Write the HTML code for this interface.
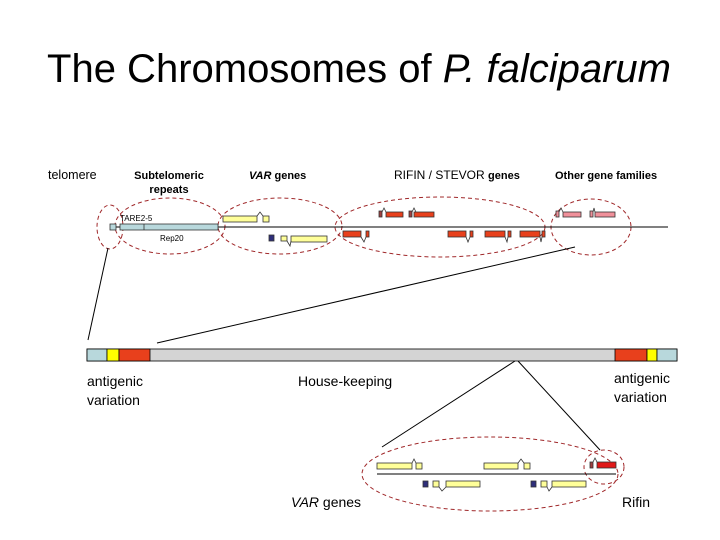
<!DOCTYPE html>
<html><head><meta charset="utf-8"><style>
body{margin:0;background:#fff;width:720px;height:540px;overflow:hidden}
svg{display:block}
text{font-family:"Liberation Sans",Arial,sans-serif}
</style></head><body>
<svg width="720" height="540" viewBox="0 0 720 540">
<text x="359" y="82" font-size="40" text-anchor="middle">The Chromosomes of <tspan font-style="italic">P. falciparum</tspan></text>
<text x="48" y="179" font-size="12.5">telomere</text>
<text x="169" y="179" font-size="11" font-weight="bold" text-anchor="middle">Subtelomeric</text>
<text x="169" y="193" font-size="11" font-weight="bold" text-anchor="middle">repeats</text>
<text x="249" y="179" font-size="11" font-weight="bold"><tspan font-style="italic">VAR</tspan> genes</text>
<text x="394" y="179" font-size="12">RIFIN / STEVOR <tspan font-size="11" font-weight="bold">genes</tspan></text>
<text x="555" y="179" font-size="11" font-weight="bold">Other gene families</text>

<g fill="none" stroke="#a0282a" stroke-width="1" stroke-dasharray="4,3">
<ellipse cx="110" cy="227" rx="13" ry="22"/>
<ellipse cx="170" cy="226" rx="55" ry="28"/>
<ellipse cx="280" cy="226" rx="62" ry="28"/>
<ellipse cx="440" cy="227" rx="105" ry="30"/>
<ellipse cx="591" cy="227" rx="40" ry="28"/>
<ellipse cx="490" cy="474" rx="128" ry="37"/>
<ellipse cx="604" cy="467" rx="20" ry="17"/>
</g>
<g stroke="#000" stroke-width="1" fill="none">
<line x1="116" y1="227" x2="668" y2="227"/>
<line x1="108" y1="248" x2="88" y2="340"/>
<line x1="575" y1="247" x2="157" y2="343"/>
<line x1="515" y1="361" x2="382" y2="447"/>
<line x1="518" y1="361" x2="600" y2="450"/>
<line x1="377" y1="474" x2="616" y2="474"/>
</g>
<text x="120" y="221" font-size="8">TARE2-5</text>
<text x="160" y="241" font-size="8">Rep20</text>
<g stroke="#333" stroke-width="0.8">
<rect x="110" y="224" width="6" height="6" fill="#b8d8dc"/>
<rect x="120" y="224" width="98" height="6" fill="#b8d8dc"/>
<line x1="144" y1="224" x2="144" y2="230"/>
<g fill="#ffff99">
<rect x="223" y="216" width="34" height="6"/><rect x="263" y="216" width="6" height="6"/>
<rect x="281" y="236" width="6" height="5"/><rect x="291" y="236" width="36" height="6"/>
<rect x="377" y="463" width="35" height="6"/><rect x="416" y="463" width="6" height="6"/>
<rect x="484" y="463" width="34" height="6"/><rect x="524" y="463" width="6" height="6"/>
<rect x="433" y="481" width="6" height="6"/><rect x="446" y="481" width="34" height="6"/>
<rect x="541" y="481" width="6" height="6"/><rect x="552" y="481" width="34" height="6"/>
</g>
<g fill="#2e2e7a">
<rect x="269" y="235" width="5" height="6"/><rect x="423" y="481" width="5" height="6"/><rect x="531" y="481" width="5" height="6"/>
</g>
<g fill="#e8401c">
<rect x="386" y="212" width="17" height="5"/><rect x="414" y="212" width="20" height="5"/>
<rect x="343" y="231" width="18" height="6"/><rect x="366" y="231" width="3" height="6"/>
<rect x="448" y="231" width="18" height="6"/><rect x="470" y="231" width="3" height="6"/>
<rect x="485" y="231" width="20" height="6"/><rect x="508" y="231" width="3" height="6"/>
<rect x="520" y="231" width="20" height="6"/><rect x="542" y="231" width="3" height="6"/>
</g>
<g fill="#a04040"><rect x="379" y="211" width="3" height="6"/><rect x="409" y="211" width="3" height="6"/><rect x="590" y="462" width="3" height="6"/></g>
<g fill="#f0909a">
<rect x="563" y="212" width="18" height="5"/><rect x="595" y="212" width="20" height="5"/>
<rect x="556" y="211" width="3" height="6"/><rect x="590" y="211" width="3" height="6"/>
</g>
<rect x="597" y="462" width="19" height="6" fill="#e01818"/>
</g>
<g stroke="#333" stroke-width="0.8" fill="none">
<polyline points="257,216 260,212 263,216"/>
<polyline points="287,241 290,246 291,241"/>
<polyline points="382,212 384,208 386,212"/><polyline points="412,212 414,208 416,212"/>
<polyline points="361,237 364,242 366,237"/><polyline points="466,237 468,242 470,237"/>
<polyline points="505,237 507,242 508,237"/><polyline points="540,237 541,242 542,237"/>
<polyline points="559,212 561,208 563,212"/><polyline points="593,212 594,208 595,212"/>
<polyline points="412,463 414,459 416,463"/><polyline points="518,463 521,459 524,463"/>
<polyline points="439,487 442,491 446,487"/><polyline points="547,487 549,491 552,487"/>
<polyline points="593,462 595,458 597,462"/>
</g>
<g stroke="#000" stroke-width="0.8">
<rect x="87" y="349" width="590" height="12" fill="#d4d4d4"/>
<rect x="87" y="349" width="20" height="12" fill="#b8d8dc"/>
<rect x="107" y="349" width="12" height="12" fill="#ffff00"/>
<rect x="119" y="349" width="31" height="12" fill="#e8401c"/>
<rect x="615" y="349" width="32" height="12" fill="#e8401c"/>
<rect x="647" y="349" width="10" height="12" fill="#ffff00"/>
<rect x="657" y="349" width="20" height="12" fill="#b8d8dc"/>
</g>
<text x="87" y="386" font-size="14">antigenic</text>
<text x="87" y="405" font-size="14">variation</text>
<text x="298" y="386" font-size="14">House-keeping</text>
<text x="614" y="383" font-size="14">antigenic</text>
<text x="614" y="402" font-size="14">variation</text>
<text x="291" y="507" font-size="14" font-style="italic">VAR <tspan font-style="normal">genes</tspan></text>
<text x="622" y="507" font-size="14">Rifin</text>
</svg>
</body></html>
